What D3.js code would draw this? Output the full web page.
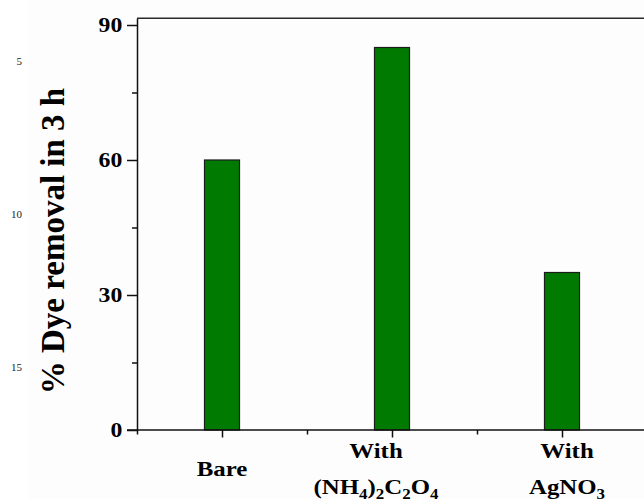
<!DOCTYPE html>
<html>
<head>
<meta charset="utf-8">
<script src="https://cdn.jsdelivr.net/npm/d3@7"></script>
<style>
  html, body { margin: 0; padding: 0; background: #ffffff; }
  svg { display: block; }
  text { font-family: "Liberation Serif", "Times New Roman", serif; }
</style>
</head>
<body>
<svg id="chart" width="644" height="499"></svg>
<script>
// Dye removal after 3 h for the bare catalyst and with scavengers
const categories = ["Bare", "With (NH4)2C2O4", "With AgNO3"];
const removal = [60, 85, 35];
const yTicks = [0, 30, 60, 90];
const yMinorTicks = [15, 45, 75];
// label lines; each line is a list of [text, isSubscript] pieces
const categoryLabels = [
  [[["Bare", false]]],
  [[["With", false]],
   [["(NH", false], ["4", true], [")", false], ["2", true], ["C", false], ["2", true], ["O", false], ["4", true]]],
  [[["With", false]],
   [["AgNO", false], ["3", true]]]
];
const yTitle = "% Dye removal in 3 h";
const lineNumbers = ["5", "10", "15"];

const svg = d3.select("#chart");
const W = 644, H = 499;
const wide = 1.13; // horizontal widening of the bold serif lettering

// faint page tone right of the line-number gutter
svg.append("rect").attr("x", 0).attr("y", 0).attr("width", W).attr("height", H).attr("fill", "#ffffff");
svg.append("rect").attr("x", 28).attr("y", 0).attr("width", W - 28).attr("height", H).attr("fill", "#fdfdfd");

const plot = { left: 137, right: 647, top: 18.25, bottom: 430 };

const y = d3.scaleLinear().domain([0, 91.5]).range([plot.bottom, plot.top]);
const x = d3.scaleBand().domain(categories)
  .range([plot.left, plot.right])
  .paddingInner(0.794).paddingOuter(0.397);
const step = x.step();
const center = c => x(c) + x.bandwidth() / 2;

// bars
svg.append("g").selectAll("rect").data(categories).join("rect")
  .attr("x", c => x(c))
  .attr("y", (c, i) => y(removal[i]))
  .attr("width", x.bandwidth())
  .attr("height", (c, i) => y(0) - y(removal[i]))
  .attr("fill", "#007a00")
  .attr("stroke", "#1c1c1c")
  .attr("stroke-width", 1.2);

// frame: top border
svg.append("line")
  .attr("x1", plot.left).attr("x2", plot.right)
  .attr("y1", plot.top).attr("y2", plot.top)
  .attr("stroke", "#2a2a2a").attr("stroke-width", 1.5);

function styleAxis(g) {
  g.select(".domain").attr("stroke", "#111").attr("stroke-width", 1.5);
  g.selectAll(".tick line").attr("stroke", "#111").attr("stroke-width", 1.5);
}

// y axis, major ticks with labels
const yAxis = svg.append("g")
  .attr("transform", `translate(${plot.left},0)`)
  .call(d3.axisLeft(y).tickValues(yTicks).tickSize(10).tickPadding(3).tickSizeOuter(0).tickFormat(d3.format("d")));
styleAxis(yAxis);
yAxis.selectAll(".tick text")
  .attr("font-family", "'Liberation Serif', 'Times New Roman', serif")
  .attr("font-size", 21).attr("font-weight", "bold").attr("fill", "#000")
  .attr("transform", `scale(${wide},1)`);

// y axis, minor ticks
const yMinor = svg.append("g")
  .attr("transform", `translate(${plot.left},0)`)
  .call(d3.axisLeft(y).tickValues(yMinorTicks).tickSize(5).tickSizeOuter(0).tickFormat(""));
styleAxis(yMinor);
yMinor.select(".domain").remove();

// x axis: major ticks at bar centres, minor ticks between categories
const xLin = d3.scaleLinear().domain([plot.left, plot.right]).range([plot.left, plot.right]);
const xMajorPos = categories.map(center);
const xMinorPos = d3.range(categories.length + 1).map(i => plot.left + i * step);

const xAxis = svg.append("g")
  .attr("transform", `translate(0,${plot.bottom})`)
  .call(d3.axisBottom(xLin).tickValues(xMajorPos).tickSize(7.5).tickSizeOuter(0).tickFormat(""));
styleAxis(xAxis);
xAxis.select(".domain").attr("d", `M${plot.left - 10},0H${plot.right}`);

const xMinor = svg.append("g")
  .attr("transform", `translate(0,${plot.bottom})`)
  .call(d3.axisBottom(xLin).tickValues(xMinorPos).tickSize(4.5).tickSizeOuter(0).tickFormat(""));
styleAxis(xMinor);
xMinor.select(".domain").remove();

// category labels (one or two lines, with chemical subscripts)
const labelShift = [0, -16, 5];
const lineGap = 36;
const midBaseline = 476;
categoryLabels.forEach((lines, i) => {
  const n = lines.length;
  lines.forEach((pieces, j) => {
    const base = midBaseline + (j - (n - 1) / 2) * lineGap;
    const t = svg.append("text")
      .attr("transform", `translate(${xMajorPos[i] + labelShift[i]},${base}) scale(${wide},1)`)
      .attr("text-anchor", "middle")
      .attr("font-size", 22)
      .attr("font-weight", "bold")
      .attr("fill", "#000");
    let down = false;
    pieces.forEach(([txt, sub]) => {
      const ts = t.append("tspan").text(txt);
      if (sub && !down) { ts.attr("dy", 5).attr("font-size", 15); down = true; }
      else if (sub) { ts.attr("font-size", 15); }
      else if (down) { ts.attr("dy", -5); down = false; }
    });
  });
});

// y title
svg.append("text")
  .attr("transform", `translate(64,241) rotate(-90)`)
  .attr("text-anchor", "middle")
  .attr("font-size", 33)
  .attr("font-weight", "bold")
  .attr("fill", "#000")
  .text(yTitle);

// manuscript line numbers in the left gutter
const lineNumberY = d3.scaleLinear().domain([0, 2]).range([61, 367]);
svg.append("g").selectAll("text").data(lineNumbers).join("text")
  .attr("x", 22)
  .attr("y", (d, i) => lineNumberY(i))
  .attr("dy", "0.35em")
  .attr("text-anchor", "end")
  .attr("font-size", 11)
  .attr("fill", "#222")
  .text(d => d);
</script>
</body>
</html>
